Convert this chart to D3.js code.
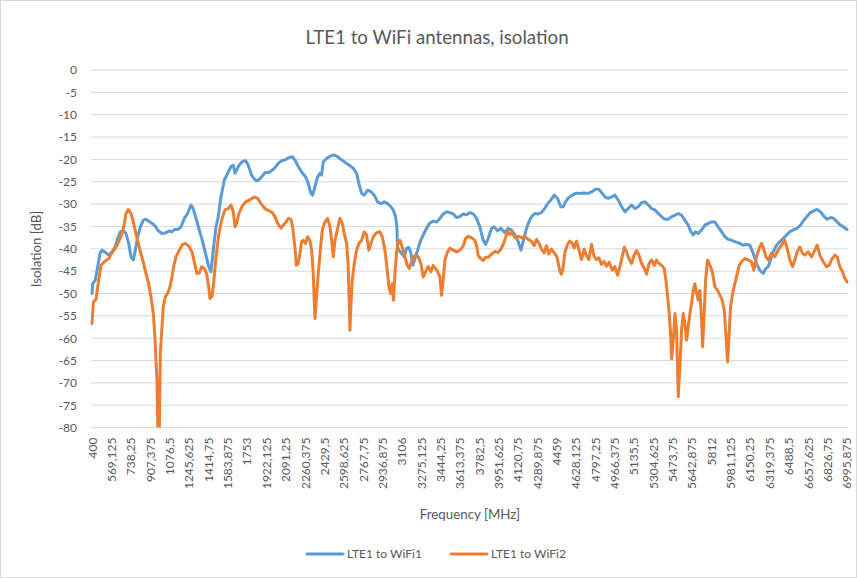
<!DOCTYPE html>
<html>
<head>
<meta charset="utf-8">
<script src="https://cdn.jsdelivr.net/npm/d3@7"></script>
<style>
  body { margin: 0; background: #fff; }
  text { font-family: Lato, "Open Sans", sans-serif; fill: #595959; }
</style>
</head>
<body>
<div id="root"></div>
<script>
// category labels as printed on the x axis (Excel shows every 41st point)
const xLabels = ["400", "569,125", "738,25", "907,375", "1076,5", "1245,625", "1414,75", "1583,875",
  "1753", "1922,125", "2091,25", "2260,375", "2429,5", "2598,625", "2767,75", "2936,875", "3106",
  "3275,125", "3444,25", "3613,375", "3782,5", "3951,625", "4120,75", "4289,875", "4459", "4628,125",
  "4797,25", "4966,375", "5135,5", "5304,625", "5473,75", "5642,875", "5812", "5981,125", "6150,25",
  "6319,375", "6488,5", "6657,625", "6826,75", "6995,875"];

const yTicks = [0, -5, -10, -15, -20, -25, -30, -35, -40, -45, -50, -55, -60, -65, -70, -75, -80];

const seriesNames = ["LTE1 to WiFi1", "LTE1 to WiFi2"];
const seriesColors = ["#5b9bd5", "#ed7d31"];

// [frequency MHz, isolation dB]
const wifi1 = [[400,-50],[406,-47.8],[429,-47],[450,-44],[470,-41],[487,-40.3],[522,-40.9],[546,-41.4],[575,-40.7],
  [604,-39.5],[624,-37.7],[648,-36.2],[677,-36],[697,-36.6],[721,-38.8],[741,-41.8],[761,-42.5],[779,-40.3],
  [799,-37.3],[822,-35.2],[848,-33.6],[872,-33.4],[907,-34],[945,-34.7],[974,-35.8],[1012,-36.6],[1047,-36.4],
  [1076,-36],[1099,-36.2],[1120,-35.7],[1149,-35.7],[1178,-35.1],[1207,-33.2],[1236,-32.1],[1265,-30.2],
  [1285,-31],[1309,-33.2],[1338,-35.8],[1367,-38.4],[1396,-41.4],[1420,-44],[1440,-45.1],[1460,-40.3],
  [1484,-35.1],[1504,-32.8],[1527,-28.4],[1557,-24.6],[1586,-23.1],[1615,-21.6],[1635,-21.3],[1650,-23.1],
  [1664,-22.4],[1685,-21.3],[1714,-20.5],[1743,-20.3],[1766,-21.3],[1795,-23.5],[1825,-24.6],[1848,-24.8],
  [1883,-23.9],[1912,-23],[1956,-22.8],[1994,-22],[2028,-20.9],[2058,-20.3],[2087,-20.1],[2122,-19.6],
  [2151,-19.4],[2174,-20.1],[2203,-21.6],[2238,-23],[2267,-23.9],[2291,-25.4],[2314,-27.6],[2329,-28],
  [2349,-26.1],[2372,-23.9],[2393,-23.1],[2407,-23.5],[2422,-20.5],[2451,-19.8],[2480,-19.3],[2509,-19],
  [2547,-19.4],[2582,-20.1],[2626,-20.9],[2655,-21.4],[2684,-22],[2713,-23.1],[2733,-25.4],[2757,-27.6],
  [2780,-28],[2809,-26.9],[2838,-27.2],[2867,-28],[2896,-29.5],[2926,-29.9],[2955,-29.5],[2984,-29.9],
  [3013,-30.6],[3033,-31.3],[3054,-32.8],[3065,-35.1],[3071,-39.6],[3083,-40.3],[3106,-41],[3130,-41.8],
  [3150,-39.9],[3170,-39.7],[3188,-41],[3205,-43.7],[3223,-42.2],[3246,-40.3],[3269,-38.4],[3296,-36.9],
  [3325,-35.4],[3354,-34.2],[3383,-33.8],[3412,-34],[3441,-33.2],[3470,-32.2],[3499,-31.7],[3529,-31.9],
  [3558,-32.2],[3587,-33],[3616,-32.8],[3645,-32.2],[3674,-32.4],[3703,-31.9],[3733,-32.2],[3762,-33.2],
  [3791,-35.1],[3820,-38.1],[3840,-39],[3863,-37.7],[3893,-35.4],[3916,-35.1],[3945,-36],[3974,-35.4],
  [4009,-36.4],[4038,-35.4],[4067,-35.8],[4097,-36.9],[4126,-38.4],[4149,-40.3],[4169,-38.4],[4190,-36.2],
  [4213,-34.3],[4242,-32.8],[4271,-32.1],[4300,-32.2],[4330,-31.9],[4359,-30.9],[4382,-29.9],[4411,-29.1],
  [4440,-28],[4469,-28.7],[4498,-30.6],[4519,-30.6],[4539,-29.5],[4568,-28.5],[4598,-28],[4627,-27.6],
  [4665,-27.6],[4702,-27.5],[4737,-27.6],[4772,-27.2],[4802,-26.7],[4831,-26.7],[4860,-27.6],[4889,-28.5],
  [4913,-28.7],[4942,-28.4],[4971,-28],[5000,-29.1],[5030,-30.6],[5059,-31.7],[5088,-31],[5117,-30.2],
  [5146,-31],[5175,-30.6],[5204,-29.7],[5234,-29.5],[5263,-30.2],[5292,-31],[5321,-31.3],[5350,-32.1],
  [5379,-32.8],[5408,-33.4],[5437,-33.4],[5467,-32.8],[5496,-32.5],[5525,-32.1],[5554,-32.5],[5583,-33.6],
  [5612,-34.7],[5636,-36.2],[5656,-36.9],[5676,-36.2],[5700,-36.6],[5729,-35.8],[5758,-34.7],[5787,-34.3],
  [5816,-34],[5845,-34],[5874,-35.1],[5904,-36.2],[5933,-37.3],[5962,-37.9],[5991,-38.1],[6020,-38.4],
  [6063,-38.8],[6093,-39.2],[6122,-39],[6151,-39.2],[6180,-41],[6209,-43.3],[6238,-44.8],[6267,-45.5],
  [6291,-44.4],[6311,-44],[6331,-42.5],[6355,-40.7],[6384,-39.2],[6413,-38.4],[6442,-37.7],[6471,-36.9],
  [6500,-36.2],[6535,-35.7],[6564,-35.4],[6594,-34.7],[6623,-33.6],[6652,-32.7],[6681,-31.9],[6710,-31.5],
  [6739,-31.2],[6768,-31.7],[6797,-32.7],[6827,-33.4],[6856,-33],[6885,-33.2],[6914,-34],[6943,-34.7],
  [6972,-35.2],[7000,-35.7]];

const wifi2 = [[400,-56.7],[404,-55.2],[412,-51.9],[435,-51.3],[458,-47],[479,-43.7],[508,-42.9],[546,-42.2],
  [575,-40.9],[610,-39.6],[639,-38.1],[662,-36.6],[683,-34.3],[697,-32.1],[717,-31.2],[741,-32.1],[761,-34],
  [784,-36.6],[813,-39.6],[843,-42.5],[872,-45.5],[895,-47.8],[915,-50.7],[936,-54.5],[950,-59.7],[959,-64.9],
  [968,-69.4],[977,-83],[988,-83],[997,-63.4],[1012,-57.5],[1023,-53],[1041,-50.7],[1061,-50],[1082,-48.5],
  [1099,-46.3],[1114,-44],[1134,-41.8],[1163,-40.3],[1192,-39],[1216,-38.8],[1245,-39.4],[1274,-40.7],
  [1294,-42.9],[1317,-45.5],[1338,-45.4],[1358,-44],[1382,-44.4],[1402,-45.5],[1420,-48.5],[1431,-51.1],
  [1449,-50.7],[1463,-47.8],[1484,-41.8],[1507,-37],[1533,-33.6],[1562,-31.3],[1592,-31],[1615,-30.2],
  [1635,-31.7],[1650,-35.1],[1664,-34.3],[1685,-32.1],[1714,-30.4],[1743,-29.5],[1781,-29],[1819,-28.4],
  [1848,-28.7],[1877,-29.9],[1912,-31],[1947,-31.5],[1976,-31.9],[1999,-32.8],[2023,-34.3],[2052,-35.4],
  [2087,-34.3],[2116,-33.2],[2139,-33.4],[2154,-35.1],[2174,-39.6],[2186,-43.7],[2203,-43.3],[2218,-41],
  [2232,-38.4],[2247,-38.1],[2267,-38.8],[2285,-37.3],[2305,-38.1],[2320,-40.3],[2334,-45.5],[2349,-55.6],
  [2363,-50.7],[2378,-45.5],[2396,-40.3],[2413,-35.8],[2436,-34],[2460,-33.2],[2480,-35.1],[2495,-38.1],
  [2509,-41.8],[2524,-38.1],[2544,-35.8],[2567,-33.2],[2588,-34.3],[2605,-36.6],[2626,-38.8],[2640,-44],
  [2655,-58.2],[2663,-53],[2675,-47],[2693,-43.3],[2713,-40.3],[2733,-38.8],[2757,-38.1],[2780,-36.2],
  [2800,-36.9],[2821,-40.3],[2838,-38.8],[2859,-37.3],[2888,-36.4],[2917,-36.2],[2937,-37.3],[2961,-40.3],
  [2981,-44.8],[2996,-48.5],[3010,-50],[3025,-47.8],[3036,-51.5],[3048,-45.5],[3062,-41],[3077,-38.4],
  [3092,-38.1],[3112,-39.6],[3135,-41.8],[3156,-43.7],[3173,-44.4],[3188,-43.3],[3208,-41.8],[3229,-41.4],
  [3252,-41.8],[3275,-43.3],[3296,-46.3],[3316,-45.1],[3339,-44],[3363,-45.1],[3383,-43.7],[3403,-44.4],
  [3421,-45.1],[3441,-46.3],[3456,-50.4],[3470,-47],[3485,-42.5],[3508,-40.7],[3529,-39.9],[3558,-40.3],
  [3587,-40.7],[3616,-40.3],[3645,-39.4],[3665,-37.7],[3689,-37.2],[3718,-37.5],[3747,-38.1],[3762,-39.3],
  [3776,-41.5],[3799,-42.2],[3820,-42.6],[3840,-41.9],[3863,-41.9],[3893,-41.2],[3922,-40.6],[3951,-40.8],
  [3974,-40.1],[3995,-39],[4015,-37.5],[4032,-36],[4053,-36.8],[4073,-36.4],[4097,-37.5],[4126,-37.2],
  [4155,-37.5],[4184,-37.2],[4213,-37.9],[4242,-38.3],[4265,-39.3],[4286,-37.9],[4306,-38.7],[4330,-40.1],
  [4353,-40.9],[4373,-39.3],[4394,-41.2],[4417,-40.1],[4440,-40.9],[4461,-41.6],[4475,-43.1],[4490,-45],
  [4504,-45.7],[4519,-44.1],[4533,-40.9],[4557,-39],[4577,-38.3],[4598,-38.7],[4615,-39.8],[4635,-38.3],
  [4656,-40.1],[4679,-42.4],[4702,-40.1],[4723,-41.6],[4743,-42.4],[4767,-39],[4787,-41.6],[4810,-42.4],
  [4831,-42],[4854,-43.5],[4877,-42.8],[4898,-43.9],[4921,-43],[4948,-44.8],[4971,-44],[4995,-45.9],
  [5015,-44],[5035,-41.8],[5053,-39.6],[5073,-40.7],[5094,-42.2],[5117,-43.3],[5140,-41.4],[5161,-40.4],
  [5181,-41.4],[5204,-43.3],[5228,-44.4],[5248,-45.7],[5269,-43.3],[5292,-42.5],[5315,-43.7],[5335,-42.5],
  [5356,-43.3],[5379,-43.7],[5402,-44.4],[5417,-47],[5432,-50.7],[5446,-54.5],[5458,-59],[5467,-64.6],
  [5481,-60.4],[5496,-54.5],[5510,-58.2],[5525,-73.1],[5539,-66.4],[5554,-58.2],[5568,-54.5],[5583,-56.7],
  [5598,-60.4],[5612,-57.5],[5627,-54.5],[5641,-52.2],[5656,-49.3],[5670,-47.8],[5685,-50],[5700,-51.5],
  [5714,-49.3],[5729,-56],[5738,-61.9],[5749,-56],[5764,-47],[5781,-42.5],[5802,-43.7],[5822,-45.1],
  [5845,-48.5],[5869,-49.3],[5889,-50.4],[5909,-51.5],[5927,-53.7],[5941,-59],[5956,-65.3],[5968,-59.7],
  [5982,-53],[6005,-49.3],[6034,-46.3],[6058,-43.7],[6078,-42.9],[6107,-42.2],[6136,-42.5],[6165,-42.9],
  [6186,-44.8],[6209,-41.8],[6232,-39.9],[6253,-38.8],[6267,-39.6],[6291,-41.8],[6311,-42.5],[6340,-41],
  [6369,-41.8],[6398,-40.3],[6428,-39.2],[6457,-38.1],[6477,-39.9],[6500,-42.5],[6524,-44],[6544,-42.5],
  [6564,-40.7],[6588,-39.6],[6611,-41],[6631,-41.4],[6660,-40.7],[6690,-41.8],[6719,-40.3],[6739,-39.2],
  [6763,-41.4],[6792,-42.9],[6821,-44],[6844,-43.7],[6864,-42.5],[6894,-41.4],[6914,-41.8],[6937,-44],
  [6960,-45.1],[6981,-46.6],[7000,-47.4]];

const W = 857, H = 578;
const plot = { left: 92, right: 847, top: 70, bottom: 427.6 };

const svg = d3.select("#root").append("svg")
  .attr("width", W)
  .attr("height", H);

svg.append("rect")
  .attr("x", 0.5).attr("y", 0.5)
  .attr("width", W - 1).attr("height", H - 1)
  .attr("fill", "#fff")
  .attr("stroke", "#d9d9d9");

const x = d3.scaleLinear().domain([400, 7000]).range([plot.left, plot.right]);
const y = d3.scaleLinear().domain([0, -80]).range([plot.top, plot.bottom]);

// horizontal grid
svg.append("g")
  .selectAll("line")
  .data(yTicks)
  .enter()
  .append("line")
  .attr("x1", plot.left - 1)
  .attr("x2", plot.right + 1)
  .attr("y1", d => y(d))
  .attr("y2", d => y(d))
  .attr("stroke", "#d9d9d9")
  .attr("stroke-width", 1);

// y axis labels
const yAxis = svg.append("g")
  .attr("transform", "translate(" + plot.left + ",0)")
  .call(d3.axisLeft(y).tickValues(yTicks).tickSize(0).tickPadding(15).tickFormat(d => d));
yAxis.select(".domain").remove();
yAxis.selectAll("text").style("font-size", "12px").attr("fill", "#595959");

// x axis labels, rotated
const xTickVals = xLabels.map(s => +s.replace(",", "."));
const xAxis = svg.append("g")
  .attr("transform", "translate(0," + plot.bottom + ")")
  .call(d3.axisBottom(x).tickValues(xTickVals).tickSize(0)
    .tickFormat((d, i) => xLabels[i]));
xAxis.select(".domain").remove();
xAxis.selectAll("text")
  .style("font-size", "12px")
  .attr("fill", "#595959")
  .attr("text-anchor", "end")
  .attr("x", -10)
  .attr("y", 0)
  .attr("dy", "0.35em")
  .attr("transform", "rotate(-90)");

// lines
svg.append("clipPath").attr("id", "clip")
  .append("rect")
  .attr("x", plot.left - 3).attr("y", plot.top - 3)
  .attr("width", plot.right - plot.left + 6)
  .attr("height", plot.bottom - plot.top + 3);

const drawLine = d3.line()
  .x(d => x(d[0]))
  .y(d => y(d[1]));

svg.append("g")
  .attr("clip-path", "url(#clip)")
  .selectAll("path")
  .data([wifi1, wifi2])
  .enter()
  .append("path")
  .attr("d", drawLine)
  .attr("fill", "none")
  .attr("stroke", (d, i) => seriesColors[i])
  .attr("stroke-width", 3)
  .attr("stroke-linejoin", "round")
  .attr("stroke-linecap", "round");

// titles
svg.append("text")
  .attr("x", 437).attr("y", 44)
  .attr("text-anchor", "middle")
  .style("font-size", "18.7px")
  .text("LTE1 to WiFi antennas, isolation");

svg.append("text")
  .attr("x", 470).attr("y", 519)
  .attr("text-anchor", "middle")
  .style("font-size", "13.3px")
  .text("Frequency [MHz]");

svg.append("text")
  .attr("transform", "translate(41,249) rotate(-90)")
  .attr("text-anchor", "middle")
  .style("font-size", "13.3px")
  .text("Isolation [dB]");

// legend
const legendX = [307, 451];
const legend = svg.append("g")
  .selectAll("g")
  .data(seriesNames)
  .enter()
  .append("g")
  .attr("transform", (d, i) => "translate(" + legendX[i] + ",554)");

legend.append("line")
  .attr("x1", 0).attr("x2", 36)
  .attr("stroke", (d, i) => seriesColors[i])
  .attr("stroke-width", 3)
  .attr("stroke-linecap", "round");

legend.append("text")
  .attr("x", 40)
  .attr("dy", "0.35em")
  .style("font-size", "12px")
  .text(d => d);
</script>
</body>
</html>
